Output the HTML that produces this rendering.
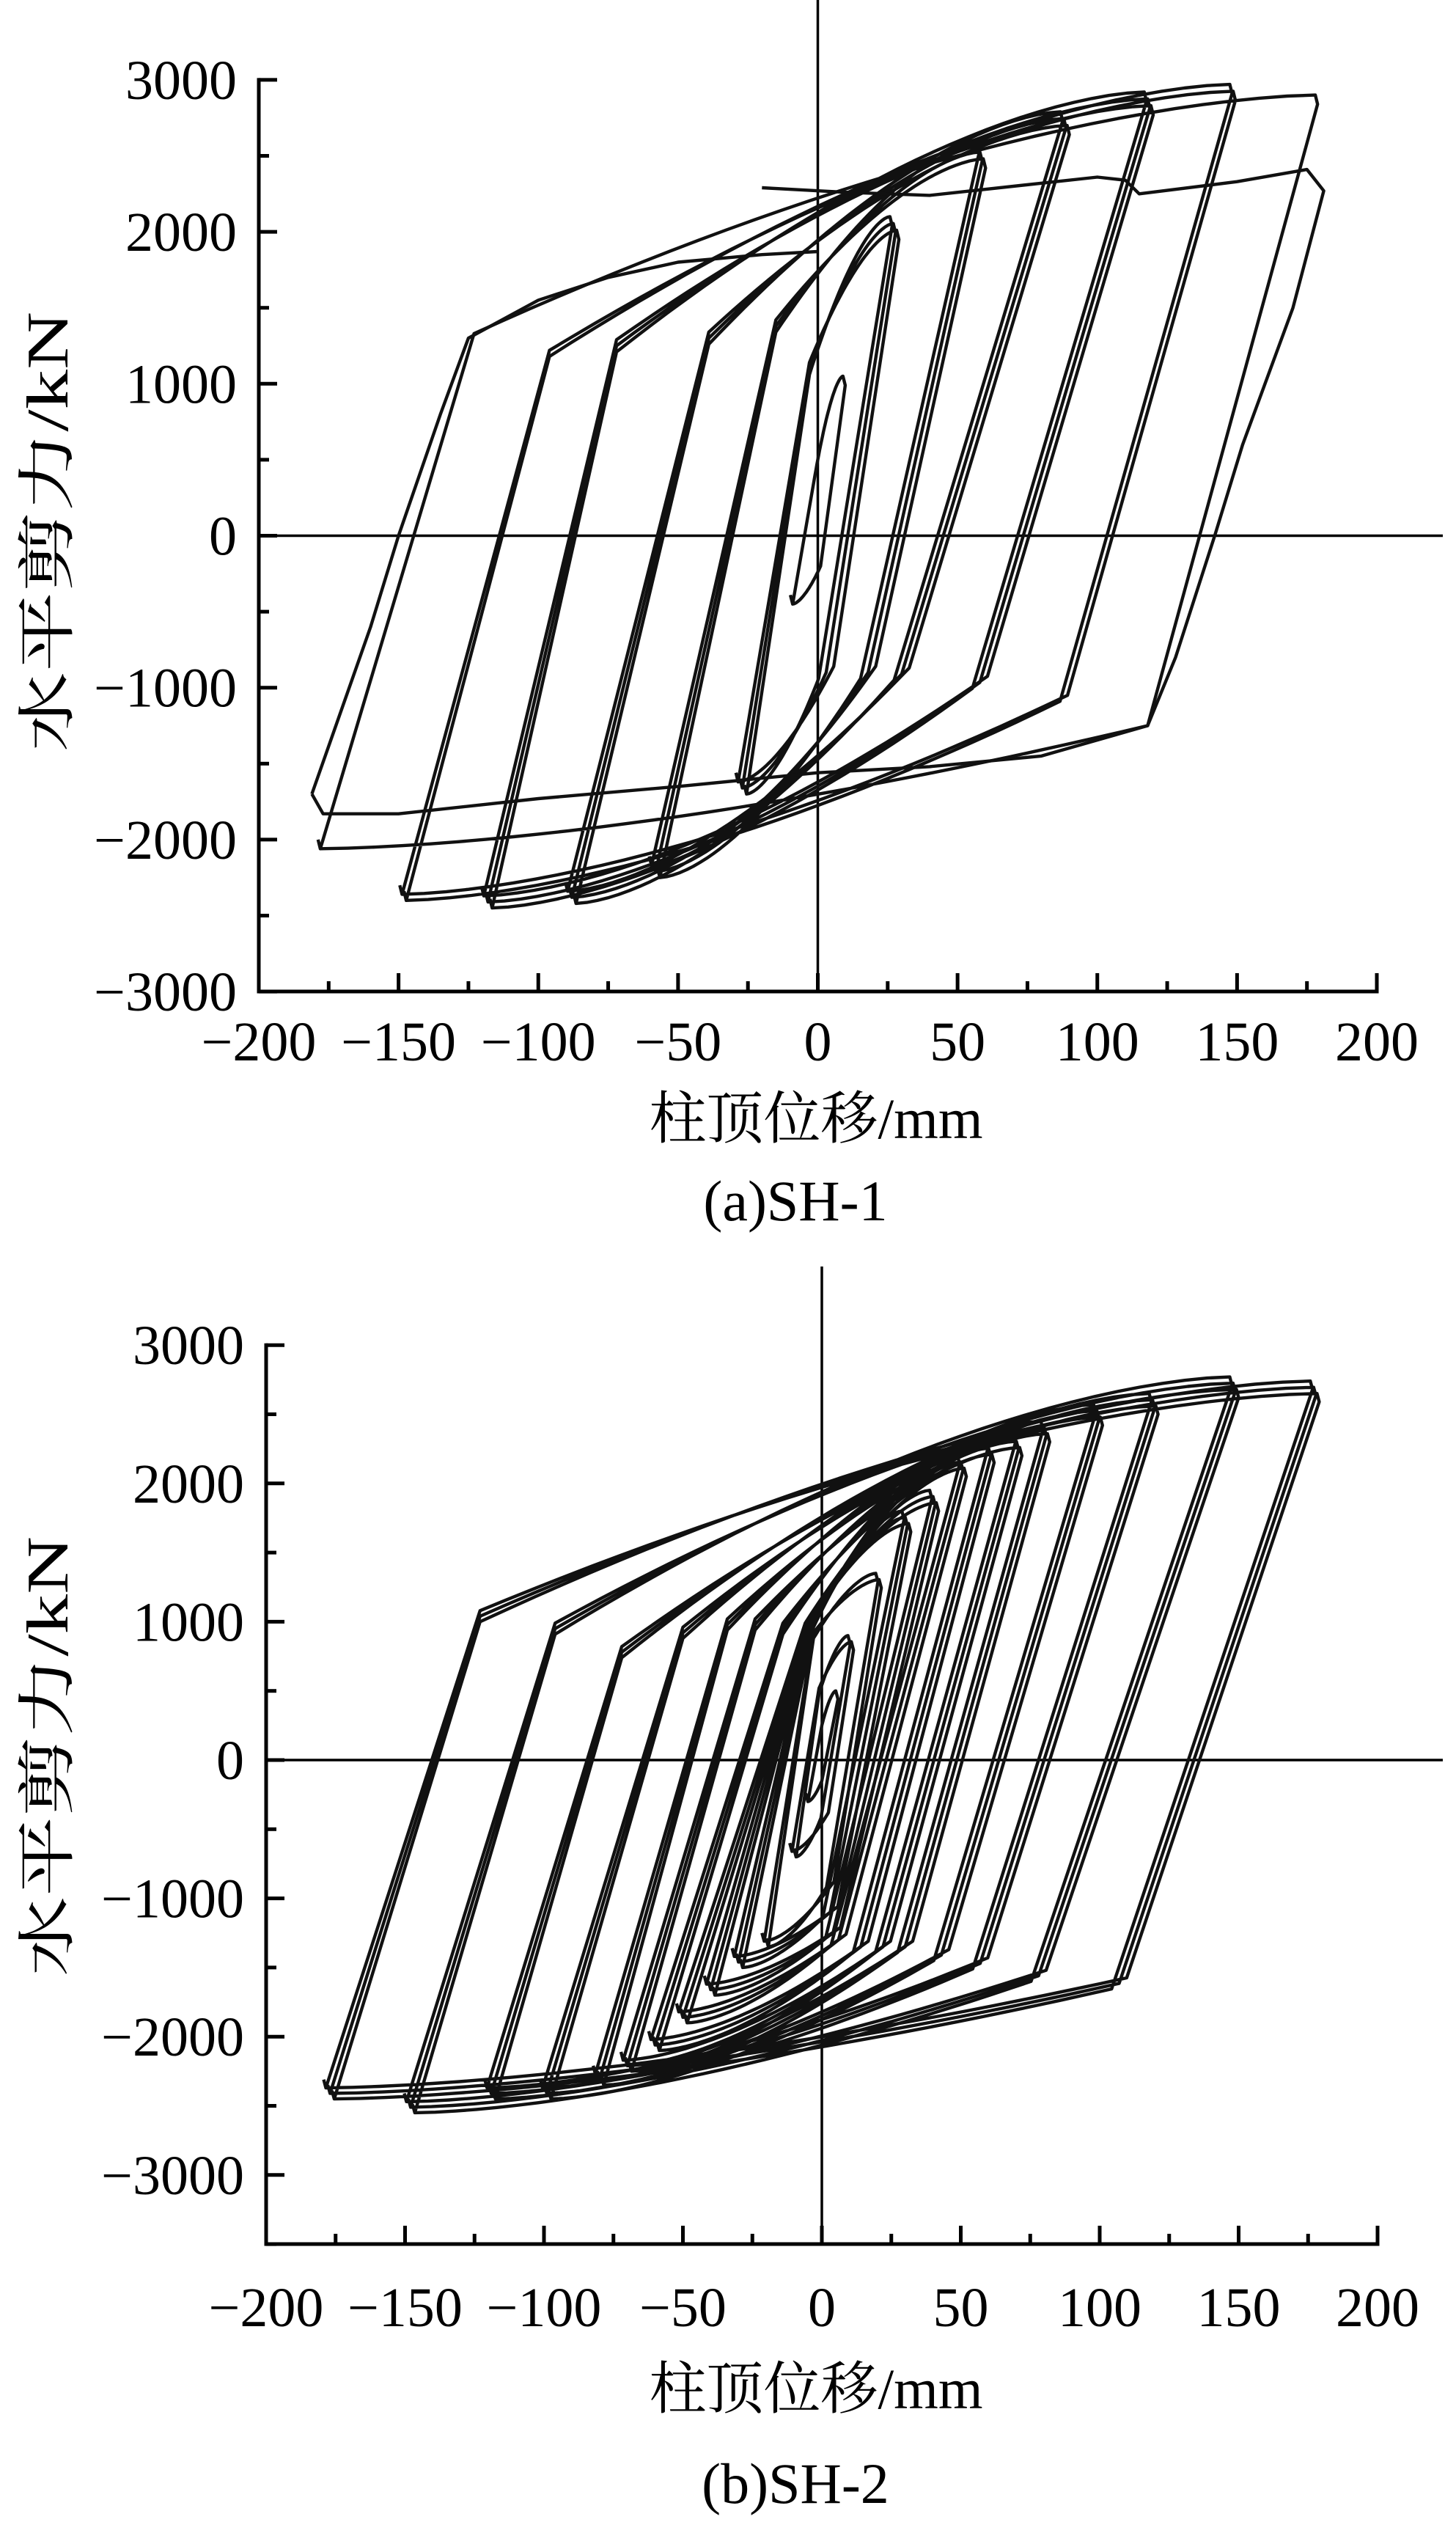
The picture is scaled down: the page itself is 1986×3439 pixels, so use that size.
<!DOCTYPE html>
<html><head><meta charset="utf-8">
<style>
html,body{margin:0;padding:0;background:#fff;}
svg{display:block;}
text{font-family:"Liberation Serif","Noto Serif CJK SC","Noto Sans CJK SC",serif;fill:#000;}
</style></head>
<body>
<svg id="s" width="1986" height="3439" viewBox="0 0 1986 3439" xmlns="http://www.w3.org/2000/svg">
<rect width="1986" height="3439" fill="#fff"/>
<g id="g"></g>
</svg>
<script>
var NS="http://www.w3.org/2000/svg",G=document.getElementById("g");
function el(t,a,txt){var e=document.createElementNS(NS,t);for(var k in a)e.setAttribute(k,a[k]);if(txt!==undefined)e.textContent=txt;G.appendChild(e);return e;}
function panel(P){
 var X=function(x){return P.x0+x*P.sx},Y=function(f){return P.y0-f*P.sy};
 el("path",{d:"M"+P.axL+" "+Y(3000)+" L"+P.axL+" "+P.axB+" L"+X(200)+" "+P.axB,stroke:"#000","stroke-width":5,fill:"none","stroke-linecap":"square"});
 for(var f=3000;f>=P.fmin;f-=500){var yy=Y(f);var maj=(f%1000===0);
  el("line",{x1:P.axL,y1:yy,x2:P.axL+(maj?25:14),y2:yy,stroke:"#000","stroke-width":5});
  if(maj&&f>=-3000)el("text",{x:P.axL-30,y:yy+26,"font-size":76,"text-anchor":"end"},(f<0?"\u2212":"")+Math.abs(f));}
 for(var x=-200;x<=200;x+=25){var xx=X(x);var maj=(x%50===0);
  el("line",{x1:xx,y1:P.axB,x2:xx,y2:P.axB-(maj?25:14),stroke:"#000","stroke-width":5});
  if(maj)el("text",{x:xx,y:P.lblY,"font-size":76,"text-anchor":"middle"},(x<0?"\u2212":"")+Math.abs(x));}
 el("line",{x1:X(0),y1:P.vTop,x2:X(0),y2:P.axB,stroke:"#000","stroke-width":3.5});
 el("line",{x1:P.axL,y1:Y(0),x2:1968,y2:Y(0),stroke:"#000","stroke-width":3.5});
 el("text",{x:1113,y:P.titY,"font-size":78,"text-anchor":"middle"},"柱顶位移/mm");
 el("text",{x:1085,y:P.capY,"font-size":78,"text-anchor":"middle"},P.cap);
 el("text",{x:0,y:0,"font-size":80,"text-anchor":"middle",textLength:600,lengthAdjust:"spacingAndGlyphs",transform:"translate(92,"+P.ytc+") rotate(-90)"},"水平剪力/kN");
 var d="";
 function br(kx,kf,ex,ef){var s="L"+X(kx).toFixed(1)+" "+Y(kf).toFixed(1);
   for(var i=1;i<=30;i++){var t=i/30;var g=1-Math.pow(1-t,1.6);var x=kx+(ex-kx)*t,f=kf+(ef-kf)*g;s+="L"+X(x).toFixed(1)+" "+Y(f).toFixed(1);}return s;}
 P.loops.forEach(function(L){
  var D=L[0],Pk=L[1],N=L[2],fu=L[3],ou=L[4],fd=L[5],od=L[6],r=L[7];
  for(var k=0;k<r;k++){var e=(k-(r-1)/2);var dp=D+e*1.2,dn=D+e*1.5,pp=Pk-k*45,nn=N+k*40;
   d+="M"+X(-dn).toFixed(1)+" "+Y(nn).toFixed(1);
   d+=br(-dn+ou+e*1.5,fu+e*40,dp,pp);
   d+="L"+X(dp+0.8).toFixed(1)+" "+Y(pp-60).toFixed(1);
   d+=br(dp-od+e*1.5,fd+e*40,-dn,nn);
   d+="L"+X(-dn-0.8).toFixed(1)+" "+Y(nn+60).toFixed(1);}
 });
 el("path",{d:d,stroke:"#111",fill:"none","stroke-width":4.4,"stroke-linejoin":"round"});
 if(P.extra)P.extra.forEach(function(pts){var s="";pts.forEach(function(p,i){s+=(i?"L":"M")+X(p[0]).toFixed(1)+" "+Y(p[1]).toFixed(1);});
   el("path",{d:s,stroke:"#111",fill:"none","stroke-width":4.4,"stroke-linejoin":"round"});});
}
panel({x0:1115.5,sx:3.8125,y0:730.5,sy:0.2072,axL:353,axB:1352,fmin:-3000,lblY:1446,vTop:0,titY:1552,capY:1664,ytc:725,cap:"(a)SH-1",
 loops:[[9,1050,-450,400,8,-200,8,1],[27,2100,-1700,1100,24,-900,24,3],[58,2570,-2250,1380,43,-900,40,3],[88,2790,-2420,1300,49,-910,58,3],[118,2920,-2450,1250,46,-965,60,3],[148,2970,-2400,1200,52,-1070,60,2],[178,2900,-2060,1330,55,-1250,60,1]],
 extra:[[[-181,-1700],[-160,-600],[-150,0],[-135,800],[-125,1300],[-100,1550],[-75,1700],[-50,1800],[-20,1850],[0,1870]],
  [[-20,2290],[10,2260],[40,2240],[80,2320],[100,2360],[110,2340],[115,2250],[150,2330],[175,2410],[181,2270],[170,1500],[152,600],[142,0],[128,-800],[118,-1250],[80,-1450],[40,-1520],[0,-1560],[-50,-1650],[-100,-1730],[-150,-1830],[-177,-1830],[-181,-1700]]]});
panel({x0:1121,sx:3.79,y0:2400,sy:0.1886,axL:363,axB:3060,fmin:-3500,lblY:3172,vTop:1727,titY:3284,capY:3413,ytc:2395,cap:"(b)SH-2",
 loops:[[5,500,-300,250,5,-150,5,1],[10,900,-700,500,9,-400,9,2],[20,1350,-1350,900,17,-900,17,2],[30,1800,-1500,1000,27,-1100,27,3],[40,1950,-1700,1000,36,-1250,36,3],[50,2200,-1900,950,44,-1300,44,3],[60,2300,-2100,950,46,-1350,46,3],[70,2350,-2250,980,46,-1350,48,3],[80,2450,-2350,980,46,-1350,50,3],[99,2570,-2450,920,49,-1410,56,3],[119,2650,-2450,780,47,-1470,62,3],[148,2770,-2550,950,52,-1560,70,3],[177,2740,-2450,1040,54,-1615,70,3]]});
</script>
</body></html>
